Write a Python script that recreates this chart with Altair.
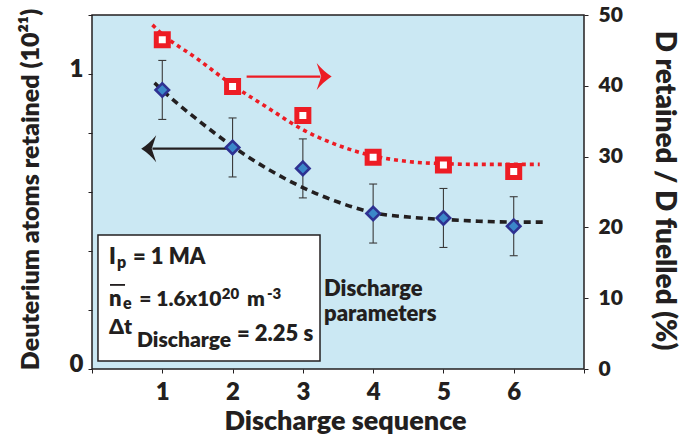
import altair as alt
import pandas as pd

# ---------------- data ----------------
seq = [1, 2, 3, 4, 5, 6]
d_atoms = [0.946, 0.751, 0.680, 0.527, 0.512, 0.484]      # left axis (10^21)
d_err = [0.10, 0.10, 0.10, 0.10, 0.10, 0.10]
d_ratio = [46.5, 39.9, 35.8, 29.9, 28.8, 27.9]            # right axis (%)

fit_atoms_x = [0.89, 1.0, 1.5, 2.0, 2.5, 3.0, 3.5, 4.0, 4.5, 5.0, 5.5, 6.0, 6.42]
fit_atoms_y = [0.97, 0.945, 0.845, 0.755, 0.678, 0.615, 0.566, 0.530, 0.515, 0.507, 0.501, 0.498, 0.498]
fit_ratio_x = [0.86, 1.0, 1.5, 2.0, 2.5, 3.0, 3.5, 4.0, 4.5, 5.0, 5.5, 6.0, 6.37]
fit_ratio_y = [48.6, 47.3, 43.8, 40.1, 36.9, 33.8, 31.6, 30.1, 29.3, 29.0, 28.9, 28.9, 28.9]

# arrows (tail x, head x, y)
arrow_left = [1.96, 0.70, 0.747]
arrow_right = [2.20, 3.41, 41.3]

# legend box (x, x2, y, y2 on left scale)
box = [0.085, 3.244, 0.454, 0.027]
note_text = ["I", "p", "= 1 MA", "n", "e", "= 1.6x10", "20", "m", "-3",
             "\u0394t", "Discharge", "= 2.25 s", "Discharge", "parameters"]
note_x = [0.242, 0.356, 0.583, 0.242, 0.441, 0.672, 1.845, 2.205, 2.490,
          0.242, 0.640, 2.063, 3.301, 3.301]
note_y = [0.356, 0.342, 0.356, 0.2136, 0.203, 0.2136, 0.238, 0.2136, 0.238,
          0.1186, 0.0746, 0.0949, 0.2475, 0.1627]
note_size = [22, 16, 22, 22, 16, 21, 15, 21, 15, 21, 21, 22, 22, 22]
overline = [0.256, 0.470, 0.285]

x_ticks = [0, 1, 2, 3, 4, 5, 6, 7]
left_ticks = [0, 0.2, 0.4, 0.6, 0.8, 1, 1.2]
right_ticks = [0, 10, 20, 30, 40, 50]

# ---------------- styling ----------------
FONT = "Lato"
W = 800
INK = "#231f20"
RED = "#ed1c24"

x_axis = alt.Axis(
    title="Discharge sequence", values=x_ticks,
    labelExpr="datum.value >= 1 && datum.value <= 6 ? datum.label : ''",
    grid=False, domain=False, ticks=True, tickSize=4, tickColor=INK, tickWidth=1,
    labelFont=FONT, labelFontSize=24, labelFontWeight=W, labelColor=INK,
    labelBaseline="alphabetic", labelPadding=26,
    titleFont=FONT, titleFontSize=27, titleFontWeight=W, titleColor=INK,
    titleX=253, titleY=60, titleBaseline="alphabetic", titleAlign="center",
)
yl_axis = alt.Axis(
    title="Deuterium atoms retained (10\u00b2\u00b9)", values=left_ticks,
    labelExpr="datum.value == 0 ? '0' : (datum.value == 1 ? '1' : '')",
    grid=False, domain=False, ticks=True, tickSize=4, tickColor=INK, tickWidth=1,
    labelFont=FONT, labelFontSize=24, labelFontWeight=W, labelColor=INK,
    labelPadding=5, labelOffset=-5,
    titleFont=FONT, titleFontSize=25, titleFontWeight=W, titleColor=INK,
    titleAngle=270, titleX=-54, titleY=174, titleBaseline="alphabetic", titleAlign="center",
)
yr_axis = alt.Axis(
    orient="right", title="D retained / D fuelled (%)", values=right_ticks,
    grid=False, domain=False, ticks=True, tickSize=4, tickColor=INK, tickWidth=1,
    labelFont=FONT, labelFontSize=21, labelFontWeight=W, labelColor=INK,
    labelPadding=10,
    titleFont=FONT, titleFontSize=28, titleFontWeight=W, titleColor=INK,
    titleAngle=90, titleX=71, titleY=175, titleBaseline="alphabetic", titleAlign="center",
)

xs = alt.Scale(domain=[0, 7], nice=False, zero=False)
yls = alt.Scale(domain=[0, 1.2], nice=False, zero=False)
yrs = alt.Scale(domain=[0, 50], nice=False, zero=False)

X = alt.X("x:Q", scale=xs, axis=x_axis)
X2 = alt.X2("x2:Q")
YL = alt.Y("y:Q", scale=yls, axis=yl_axis)
YR = alt.Y("y:Q", scale=yrs, axis=yr_axis)
Y2 = alt.Y2("y2:Q")

# ---------------- tables ----------------
pts = pd.DataFrame({"x": seq, "y": d_atoms,
                    "lo": [a - e for a, e in zip(d_atoms, d_err)],
                    "hi": [a + e for a, e in zip(d_atoms, d_err)]})
err_df = pd.DataFrame({"x": seq, "y": pts["lo"], "y2": pts["hi"]})
lo_df = pd.DataFrame({"x": seq, "y": pts["lo"]})
hi_df = pd.DataFrame({"x": seq, "y": pts["hi"]})
red_df = pd.DataFrame({"x": seq, "y": d_ratio})
fitb = pd.DataFrame({"x": fit_atoms_x, "y": fit_atoms_y})
fitr = pd.DataFrame({"x": fit_ratio_x, "y": fit_ratio_y})
box_df = pd.DataFrame({"x": [box[0]], "x2": [box[1]], "y": [box[2]], "y2": [box[3]]})
note_df = pd.DataFrame({"x": note_x, "y": note_y, "t": note_text, "s": note_size})
ol_df = pd.DataFrame({"x": [overline[0]], "x2": [overline[1]], "y": [overline[2]]})
shaft_l = pd.DataFrame({"x": [arrow_left[0]], "x2": [arrow_left[1] + 0.16], "y": [arrow_left[2]]})
head_l = pd.DataFrame({"x": [arrow_left[1]], "y": [arrow_left[2]]})
shaft_r = pd.DataFrame({"x": [arrow_right[0]], "x2": [arrow_right[1] - 0.16], "y": [arrow_right[2]]})
head_r = pd.DataFrame({"x": [arrow_right[1]], "y": [arrow_right[2]]})

HEAD_R = "M0,0 Q-0.55,-0.35 -1,-0.9 L-0.7,0 L-1,0.9 Q-0.55,0.35 0,0 Z"
HEAD_L = "M0,0 Q0.55,-0.35 1,-0.9 L0.7,0 L1,0.9 Q0.55,0.35 0,0 Z"

# ---------------- left-scale layers ----------------
box_layer = alt.Chart(box_df).mark_rect(fill="white", stroke=INK, strokeWidth=1.5).encode(
    x=X, x2=X2, y=YL, y2=Y2)
note_layer = alt.Chart(note_df).mark_text(
    align="left", baseline="alphabetic", font=FONT, fontWeight=W, color=INK
).encode(x=X, y=YL, text="t:N", size=alt.Size("s:Q", scale=None, legend=None))
ol_layer = alt.Chart(ol_df).mark_rule(color=INK, strokeWidth=1.8).encode(x=X, x2=X2, y=YL)
err_layer = alt.Chart(err_df).mark_rule(color="#3a3a3a", strokeWidth=1.1).encode(x=X, y=YL, y2=Y2)
cap_lo = alt.Chart(lo_df).mark_tick(orient="horizontal", size=8, thickness=1.1, color="#3a3a3a", opacity=1).encode(x=X, y=YL)
cap_hi = alt.Chart(hi_df).mark_tick(orient="horizontal", size=8, thickness=1.1, color="#3a3a3a", opacity=1).encode(x=X, y=YL)
fitb_layer = alt.Chart(fitb).mark_line(color=INK, strokeWidth=3.6, strokeDash=[7, 5],
                                       interpolate="monotone").encode(x=X, y=YL)
shaft_l_layer = alt.Chart(shaft_l).mark_rule(color=INK, strokeWidth=2.4).encode(x=X, x2=X2, y=YL)
head_l_layer = alt.Chart(head_l).mark_point(shape=HEAD_L, size=900, filled=True, color=INK,
                                            strokeWidth=0, opacity=1).encode(x=X, y=YL)
diam_layer = alt.Chart(pts).mark_point(shape="diamond", size=180, filled=True, fill="#3b87c9",
                                       stroke="#2e3192", strokeWidth=2.6, opacity=1).encode(x=X, y=YL)

left = alt.layer(box_layer, ol_layer, note_layer, err_layer, cap_lo, cap_hi, fitb_layer,
                 shaft_l_layer, head_l_layer, diam_layer)

# ---------------- right-scale layers ----------------
fitr_layer = alt.Chart(fitr).mark_line(color=RED, strokeWidth=3.6, strokeDash=[4, 4],
                                       interpolate="monotone").encode(x=X, y=YR)
shaft_r_layer = alt.Chart(shaft_r).mark_rule(color=RED, strokeWidth=2.4).encode(x=X, x2=X2, y=YR)
head_r_layer = alt.Chart(head_r).mark_point(shape=HEAD_R, size=900, filled=True, color=RED,
                                            strokeWidth=0, opacity=1).encode(x=X, y=YR)
sq_layer = alt.Chart(red_df).mark_point(shape="square", size=144, filled=True, fill="white",
                                        stroke=RED, strokeWidth=5, opacity=1).encode(x=X, y=YR)

right = alt.layer(fitr_layer, shaft_r_layer, head_r_layer, sq_layer)

chart = alt.layer(left, right).resolve_scale(y="independent").properties(
    width=492, height=354,
    autosize=alt.AutoSizeParams(type="none"),
    padding={"left": 92, "top": 15, "right": 102, "bottom": 67},
    background="white",
).configure_view(fill="#cbe8f3", stroke=INK, strokeWidth=1.5)

chart.save("out.html", embed_options={"renderer": "svg", "actions": False})
